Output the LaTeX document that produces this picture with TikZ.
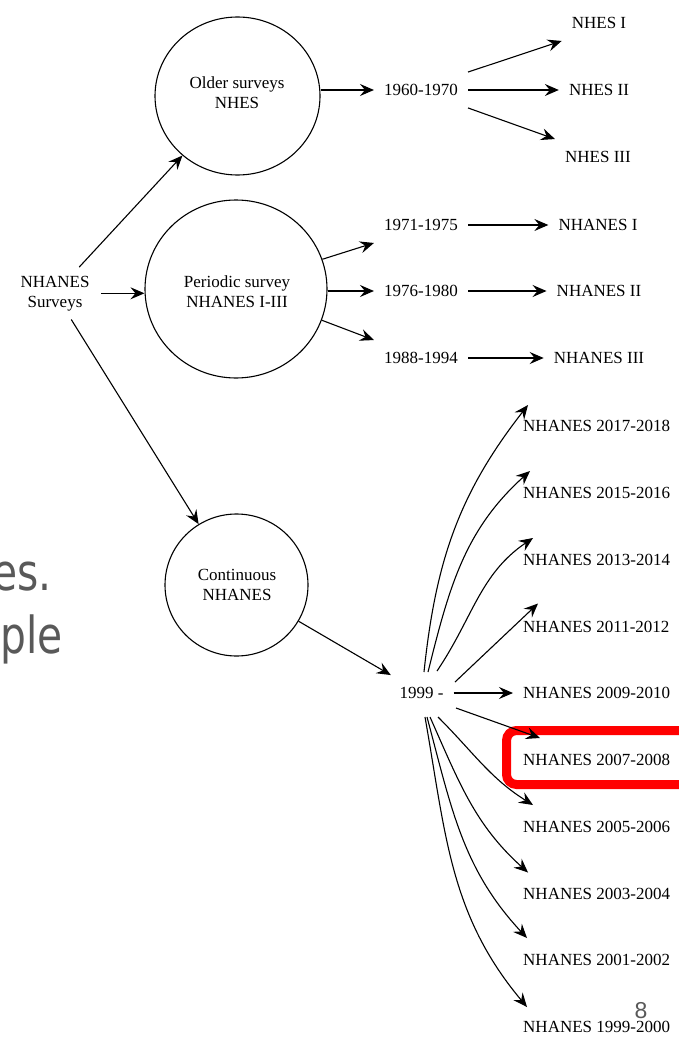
\documentclass[tikz,border=0pt]{standalone}
\usepackage{fontspec}
\setmainfont{Liberation Serif}
\newfontfamily\grayfont{DejaVu Sans}
\newfontfamily\numfont{Liberation Sans}
\usetikzlibrary{arrows.meta,shapes.geometric,calc}
\definecolor{slidegray}{RGB}{89,89,89}
\definecolor{hlred}{RGB}{255,0,0}
\begin{document}
\begin{tikzpicture}[x=1pt,y=1pt,
  lbl/.style={font=\fontsize{17}{20}\selectfont, inner xsep=10pt, inner ysep=12pt, text height=11.5pt, text depth=0pt},
  surv/.style={font=\fontsize{17}{20}\selectfont, align=center, inner xsep=11.5pt, inner ysep=8.5pt},
  ctext/.style={font=\fontsize{17}{20}\selectfont, align=center, inner sep=0pt},
  circ/.style={draw, ellipse, line width=1.1pt, inner sep=0pt},
  arr/.style={line width=1.1pt, -{Stealth[length=14pt,width=12pt,inset=5pt]}},
  graytext/.style={font=\grayfont\fontsize{51}{60}\selectfont, text=slidegray, xscale=0.8, inner sep=0pt},
  hlbox/.style={draw=hlred, line width=9pt, rounded corners=10pt, inner sep=0pt}
]
\useasboundingbox (0,0) rectangle (679,-1038);
\clip (0,0) rectangle (679,-1038);

% slide text fragments
\node[graytext, anchor=base east] (g1) at (52,-590) {es.};
\node[graytext, anchor=base east] (g2) at (63,-653) {ple};
\node[font=\numfont\fontsize{23}{26}\selectfont, text=slidegray, inner sep=0pt, anchor=base] (pg) at (641,-1018) {8};

% highlight
\node[hlbox, minimum width=200pt, minimum height=54pt, anchor=west] (hl) at (502,-757.5) {};

% root
\node[surv] (surv) at (55,-293.3) {NHANES\\Surveys};

% circles
\node[circ, minimum width=165pt, minimum height=158pt] (c1) at (237.5,-96) {};
\node[circ, minimum width=182pt, minimum height=178pt] (c2) at (236,-289) {};
\node[circ, minimum width=143pt, minimum height=142pt] (c3) at (236.5,-585) {};
\node[ctext] (c1t) at (237,-93) {Older surveys\\NHES};
\node[ctext] (c2t) at (237,-292) {Periodic survey\\NHANES I-III};
\node[ctext] (c3t) at (237,-584.5) {Continuous\\NHANES};

% NHES branch
\node[lbl] (t1960) at (421,-90) {1960-1970};
\node[lbl] (nhes1) at (599,-23) {NHES I};
\node[lbl] (nhes2) at (599,-90) {NHES II};
\node[lbl] (nhes3) at (598,-157) {NHES III};

% NHANES I-III branch
\node[lbl] (t1971) at (421,-225) {1971-1975};
\node[lbl] (t1976) at (421,-291) {1976-1980};
\node[lbl] (t1988) at (421,-358) {1988-1994};
\node[lbl] (nh1) at (598,-225) {NHANES I};
\node[lbl] (nh2) at (599,-291) {NHANES II};
\node[lbl] (nh3) at (599,-358) {NHANES III};

% continuous branch
\node[lbl] (t1999) at (421.5,-693) {1999 -};
\node[lbl, anchor=west] (n2017) at (513,-426) {NHANES 2017-2018};
\node[lbl, anchor=west] (n2015) at (513,-493) {NHANES 2015-2016};
\node[lbl, anchor=west] (n2013) at (513,-560) {NHANES 2013-2014};
\node[lbl, anchor=west] (n2011) at (513,-626.5) {NHANES 2011-2012};
\node[lbl, anchor=west] (n2009) at (513,-693) {NHANES 2009-2010};
\node[lbl, anchor=west] (n2007) at (513,-760) {NHANES 2007-2008};
\node[lbl, anchor=west] (n2005) at (513,-827) {NHANES 2005-2006};
\node[lbl, anchor=west] (n2003) at (513,-893.5) {NHANES 2003-2004};
\node[lbl, anchor=west] (n2001) at (513,-960) {NHANES 2001-2002};
\node[lbl, anchor=west] (n1999) at (513,-1027) {NHANES 1999-2000};

% connectors from root
\draw[arr] (surv) -- (c1);
\draw[arr] (surv.east) -- (surv.east -| c2.west);
\draw[arr] (surv) -- (c3);

% circle 1
\draw[arr] (c1.east |- t1960) -- (t1960.west);
\draw[arr] (t1960.north east) -- (nhes1.south west);
\draw[arr] (t1960) -- (nhes2);
\draw[arr] (t1960.south east) -- (nhes3.north west);

% circle 2
\draw[arr] (c2.19) -- (t1971.south west);
\draw[arr] (c2.east |- t1976) -- (t1976.west);
\draw[arr] (c2.-20) -- (t1988.north west);
\draw[arr] (t1971) -- (nh1);
\draw[arr] (t1976) -- (nh2);
\draw[arr] (t1988) -- (nh3);

% circle 3
\draw[arr] (c3) -- (t1999);
\draw[arr] ($(t1999.center)+(2.5,21)$) to[out=84,in=232] ($(n2017.west)+(15,21)$);
\draw[arr] ($(t1999.center)+(6.5,21)$) to[out=76,in=222] ($(n2015.west)+(17,22)$);
\draw[arr] ($(t1999.center)+(15.5,22)$) to[out=56,in=214] ($(n2013.west)+(20,22)$);
\draw[arr] ($(t1999.center)+(33.5,11)$) -- ($(n2011.west)+(25,23)$);
\draw[arr] (t1999) -- (n2009);
\draw[arr] ($(t1999.center)+(34.5,-15)$) -- ($(n2007.west)+(27,22)$);
\draw[arr] ($(t1999.center)+(16.5,-24)$) to[out=-45,in=148] ($(n2005.west)+(20,22)$);
\draw[arr] ($(t1999.center)+(8.5,-24)$) to[out=-66,in=138] ($(n2003.west)+(15,21)$);
\draw[arr] ($(t1999.center)+(5.5,-24)$) to[out=-75,in=133] ($(n2001.west)+(14,22)$);
\draw[arr] ($(t1999.center)+(3.5,-24)$) to[out=-80,in=130] ($(n1999.west)+(14,20)$);
\end{tikzpicture}
\end{document}
